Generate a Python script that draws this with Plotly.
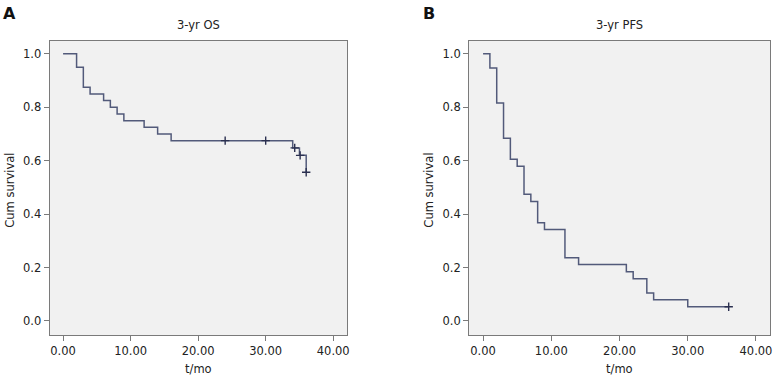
import plotly.graph_objects as go

# ---- data ----
os_times = [0, 2, 3, 4, 6, 7, 8, 9, 12, 14, 16, 34, 35, 36]
os_surv = [1.0, 0.95, 0.875, 0.85, 0.825, 0.80, 0.775, 0.75, 0.725, 0.70, 0.675, 0.648, 0.62, 0.557]
os_cens_t = [24, 30, 34.3, 35.1, 36]
os_cens_s = [0.675, 0.675, 0.648, 0.62, 0.557]

pfs_times = [0, 1, 2, 3, 4, 5, 6, 7, 8, 9, 12, 14, 21, 22, 24, 25, 30, 36]
pfs_surv = [1.0, 0.947, 0.816, 0.684, 0.605, 0.579, 0.474, 0.447, 0.368, 0.342,
            0.237, 0.211, 0.184, 0.158, 0.105, 0.079, 0.053, 0.053]
pfs_cens_t = [36]
pfs_cens_s = [0.053]

x_ticks = [0, 10, 20, 30, 40]
x_ticktext = ["0.00", "10.00", "20.00", "30.00", "40.00"]
y_ticks = [0, 0.2, 0.4, 0.6, 0.8, 1.0]
y_ticktext = ["0.0", "0.2", "0.4", "0.6", "0.8", "1.0"]

titles = ["3-yr OS", "3-yr PFS"]
panel_letters = ["A", "B"]

W, H = 776, 381
LINE = "#525a7a"
CENS = "#2b3050"
FONT = "DejaVu Sans"
TXT = "#222222"
FS = 11.5

fig = go.Figure()

fig.add_trace(go.Scatter(x=os_times, y=os_surv, mode="lines", line=dict(shape="hv", color=LINE, width=1.5),
                         xaxis="x", yaxis="y", showlegend=False, hoverinfo="skip"))
fig.add_trace(go.Scatter(x=os_cens_t, y=os_cens_s, mode="markers",
                         marker=dict(symbol="cross-thin", size=6, line=dict(color=CENS, width=1.4)),
                         xaxis="x", yaxis="y", showlegend=False))
fig.add_trace(go.Scatter(x=pfs_times, y=pfs_surv, mode="lines", line=dict(shape="hv", color=LINE, width=1.5),
                         xaxis="x2", yaxis="y2", showlegend=False, hoverinfo="skip"))
fig.add_trace(go.Scatter(x=pfs_cens_t, y=pfs_cens_s, mode="markers",
                         marker=dict(symbol="cross-thin", size=6, line=dict(color=CENS, width=1.4)),
                         xaxis="x2", yaxis="y2", showlegend=False))

left = (49.7, 348.3)
right = (470.3, 772.3)
top, bottom = 40.5, 335.0
ydom = [(H - bottom) / H, (H - top) / H]

axis_common = dict(showline=True, linecolor="#7a7a7a", linewidth=1, mirror=True, showgrid=False,
                   zeroline=False, ticks="outside", ticklen=5, tickcolor="#7a7a7a",
                   tickfont=dict(family=FONT, size=FS, color=TXT))

fig.update_layout(
    width=W, height=H, margin=dict(l=0, r=0, t=0, b=0),
    paper_bgcolor="white", plot_bgcolor="#f1f1f1",
    xaxis=dict(domain=[left[0] / W, left[1] / W], range=[-2.0, 42.1], tickvals=x_ticks, ticktext=x_ticktext,
               anchor="y", **axis_common),
    yaxis=dict(domain=ydom, range=[-0.0525, 1.05], tickvals=y_ticks, ticktext=y_ticktext,
               anchor="x", **axis_common),
    xaxis2=dict(domain=[right[0] / W, right[1] / W], range=[-2.05, 42.1], tickvals=x_ticks, ticktext=x_ticktext,
                anchor="y2", **axis_common),
    yaxis2=dict(domain=ydom, range=[-0.0525, 1.05], tickvals=y_ticks, ticktext=y_ticktext,
                anchor="x2", **axis_common),
)

ann = []
def px(x, y):
    return x / W, 1 - y / H

for (lx, rx), title, letter, lettx, ylabx in [(left, titles[0], panel_letters[0], 10, 10),
                                               (right, titles[1], panel_letters[1], 430, 430)]:
    cx = (lx + rx) / 2
    x, y = px(cx, 25)
    ann.append(dict(x=x, y=y, text=title, showarrow=False, xref="paper", yref="paper",
                    xanchor="center", yanchor="middle", font=dict(family=FONT, size=FS, color=TXT)))
    x, y = px(cx, 369)
    ann.append(dict(x=x, y=y, text="t/mo", showarrow=False, xref="paper", yref="paper",
                    xanchor="center", yanchor="middle", font=dict(family=FONT, size=FS, color=TXT)))
    x, y = px(ylabx, (top + bottom) / 2 + 2)
    ann.append(dict(x=x, y=y, text="Cum survival", showarrow=False, xref="paper", yref="paper", textangle=-90,
                    xanchor="center", yanchor="middle", font=dict(family=FONT, size=FS, color=TXT)))
    x, y = px(lettx, 14)
    ann.append(dict(x=x, y=y, text="<b>" + letter + "</b>", showarrow=False, xref="paper", yref="paper",
                    xanchor="center", yanchor="middle", font=dict(family=FONT, size=16, color="#111111")))

fig.update_layout(annotations=ann)
# remove the default page margin so the figure fills the 776x381 window exactly; hide the modebar
fig.write_html("out.html", config={"displayModeBar": False},
               post_script="document.body.style.margin='0px';")
